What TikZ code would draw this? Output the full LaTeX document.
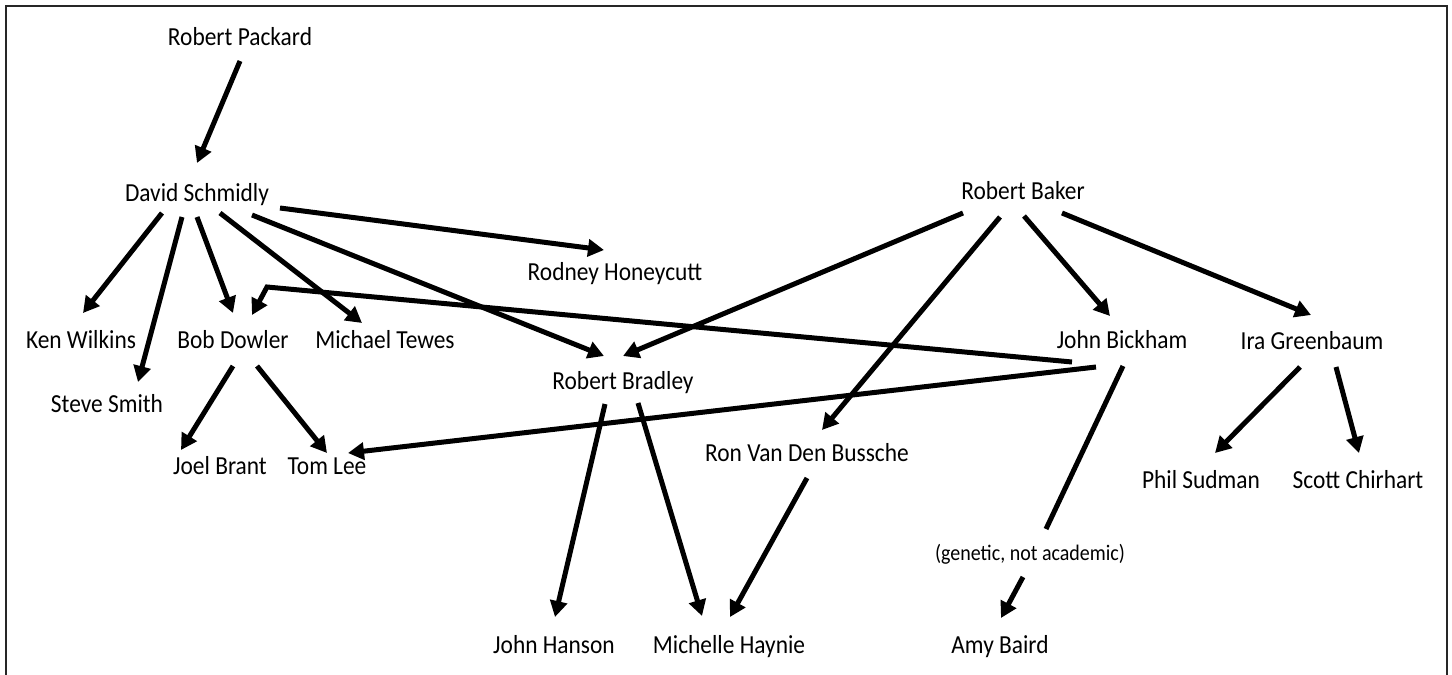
\documentclass[tikz,border=0pt]{standalone}
\usepackage{fontspec}
\setmainfont{Carlito}[FakeStretch=0.9]
\usetikzlibrary{arrows.meta,calc}
\begin{document}
\begin{tikzpicture}[x=1pt,y=-1pt,
  person/.style={anchor=base,inner sep=0pt,font=\fontsize{26}{30}\selectfont},
  note/.style={anchor=base,inner sep=0pt,font=\fontsize{22.2}{26}\selectfont},
  link/.style={line width=5pt,-{Triangle[length=16pt,width=17pt]}},
  plainlink/.style={line width=5pt},
  frameline/.style={line width=2.5pt,draw=black!85}]
\useasboundingbox (0,0) rectangle (1452,675);
\draw[frameline] (6,676) -- (6,6) -- (1447,6) -- (1447,676);

% people
\node[person] (pk)  at (240,45)  {Robert Packard};
\node[person] (ds)  at (197,201) {David Schmidly};
\node[person] (rb)  at (1023,199) {Robert Baker};
\node[person] (rh)  at (615,280) {Rodney Honeycutt};
\node[person] (kw)  at (81,348)  {Ken Wilkins};
\node[person] (bd)  at (233,348) {Bob Dowler};
\node[person] (mt)  at (385,348) {Michael Tewes};
\node[person] (ss)  at (107,412) {Steve Smith};
\node[person] (rbr) at (623,389) {Robert Bradley};
\node[person] (jb)  at (1122,348) {John Bickham};
\node[person] (ig)  at (1312,349) {Ira Greenbaum};
\node[person] (jbr) at (220,474) {Joel Brant};
\node[person] (tl)  at (327,474) {Tom Lee};
\node[person] (rv)  at (807,461) {Ron Van Den Bussche};
\node[person] (ps)  at (1201,488) {Phil Sudman};
\node[person] (sc)  at (1358,488) {Scott Chirhart};
\node[note]   (gl)  at (1030,560) {(genetic, not academic)};
\node[person] (ab)  at (1000,653) {Amy Baird};
\node[person] (jh)  at (554,653) {John Hanson};
\node[person] (mh)  at (729,653) {Michelle Haynie};

% connectors
\draw[link] ($(pk.base)+(0,16)$) -- ($(ds.base)+(0,-38)$);

\draw[link] ($(ds.base)+(-35,12)$) -- ($(kw.base)+(2,-35)$);
\draw[link] ($(ds.base)+(-15,16)$) -- ($(ss.base)+(31,-30)$);
\draw[link] ($(ds.base)+(0,16)$)   -- ($(bd.base)+(0,-35)$);
\draw[link] ($(ds.base)+(23,12)$)  -- ($(mt.base)+(-23,-25)$);
\draw[link] ($(ds.base)+(55,14)$)  -- ($(rbr.base)+(-19,-33)$);
\draw[link] ($(ds.base)+(83,7)$)   -- ($(rh.base)+(-11,-30)$);

\draw[link] ($(rb.base)+(-60,14)$) -- ($(rbr.base)+(0,-33)$);
\draw[link] ($(rb.base)+(-23,18)$) -- ($(rv.base)+(15,-31)$);
\draw[link] ($(rb.base)+(1,17)$)   -- ($(jb.base)+(-12,-32)$);
\draw[link] ($(rb.base)+(39,14)$)  -- ($(ig.base)+(-1,-34)$);

\draw[link] ($(jb.base)+(-50,14)$) -- ($(bd.base)+(34,-61)$) -- ($(bd.base)+(19,-33)$);
\draw[link] ($(jb.base)+(-26,19)$) -- ($(tl.base)+(21,-21)$);
\draw[plainlink] ($(jb.base)+(1,18)$) -- ($(gl.base)+(16,-31)$);
\draw[link] ($(gl.base)+(-7,17)$)  -- ($(ab.base)+(1,-35)$);

\draw[link] ($(ig.base)+(-12,18)$) -- ($(ps.base)+(14,-35)$);
\draw[link] ($(ig.base)+(24,18)$)  -- ($(sc.base)+(1,-35)$);

\draw[link] ($(bd.base)+(0,18)$)   -- ($(jbr.base)+(-39,-24)$);
\draw[link] ($(bd.base)+(24,18)$)  -- ($(tl.base)+(0,-21)$);

\draw[link] ($(rbr.base)+(-18,15)$) -- ($(jh.base)+(1,-36)$);
\draw[link] ($(rbr.base)+(15,14)$)  -- ($(mh.base)+(-27,-37)$);
\draw[link] ($(rv.base)+(0,17)$)    -- ($(mh.base)+(1,-36)$);
\end{tikzpicture}
\end{document}
